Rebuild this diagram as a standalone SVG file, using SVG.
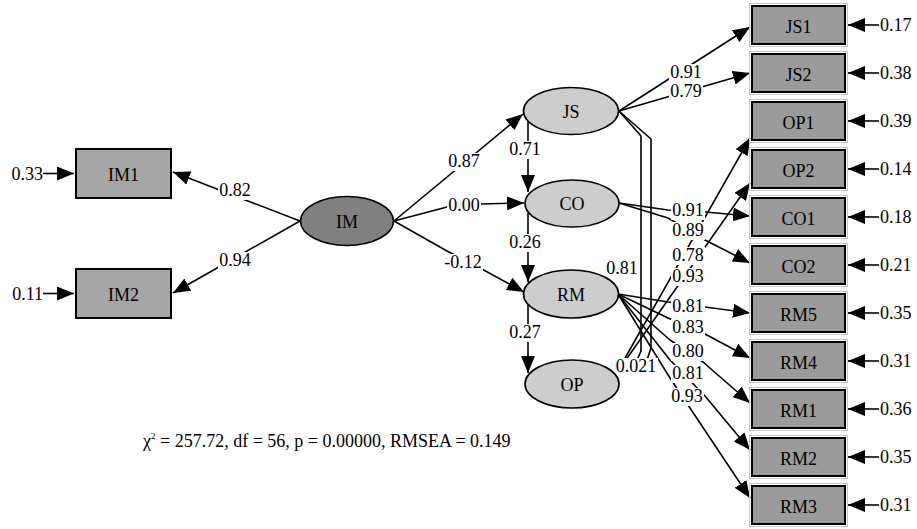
<svg xmlns="http://www.w3.org/2000/svg" width="917" height="529" viewBox="0 0 917 529" font-family="'Liberation Serif', 'Times New Roman', Tinos, 'DejaVu Serif', serif">
<style>
text{font-family:'Liberation Serif','Times New Roman',Tinos,'DejaVu Serif',serif;font-size:18px;fill:#000}
.c{fill:none;stroke:#000;stroke-width:1.6;stroke-linejoin:round}
.a{marker-end:url(#ah)}
.lb rect{fill:#fff;stroke:none}
.lb text{text-anchor:middle}
.box{fill:#9b9b9b;stroke:#000;stroke-width:2}
.boxo{fill:none;stroke:#c8c8c8;stroke-width:1}
.imbox{fill:#a6a6a6;stroke:#000;stroke-width:2}
.lat{fill:#cdcdcd;stroke:#000;stroke-width:1.6}
.exo{fill:#808080;stroke:#000;stroke-width:1.6}
.t{text-anchor:middle}
</style>
<defs>
<marker id="ah" viewBox="0 0 17 14" refX="17" refY="7" markerWidth="17" markerHeight="14" markerUnits="userSpaceOnUse" orient="auto"><path d="M0,0 L17,7 L0,14 z" fill="#000"/></marker>
</defs>
<rect width="917" height="529" fill="#fff"/>

<g id="connectors">
<path class="c a" d="M300,221 L173,172"/>
<path class="c a" d="M300,221 L173,293"/>
<path class="c a" d="M394,221 L523,114"/>
<path class="c a" d="M394,221 L447,207 L480,204 L524,203"/>
<path class="c a" d="M394,221 L447,251 L480,268 L524,292"/>
<path class="c a" d="M528,121 L528,192"/>
<path class="c a" d="M528,213 L528,282"/>
<path class="c a" d="M528,305 L528,373"/>
<path class="c a" d="M619,111 L750,27"/>
<path class="c a" d="M619,111 L750,73"/>
<path class="c a" d="M619,203 L668,210 L705,212 L750,216"/>
<path class="c a" d="M619,203 L668,218 L705,240 L750,263"/>
<path class="c a" d="M618,294 L668,302 L705,307 L750,313"/>
<path class="c a" d="M618,294 L668,318 L705,334 L750,358"/>
<path class="c a" d="M618,294 L670,340 L703,362 L750,403"/>
<path class="c a" d="M618,294 L670,360 L705,396 L750,450"/>
<path class="c a" d="M618,294 L670,378 L688,405 L750,498"/>
<path class="c a" d="M616,374 L750,138"/>
<path class="c a" d="M616,374 L750,183"/>
<path class="c" d="M619,111 L641,136 L641,351 L637,360"/>
<path class="c" d="M619,111 L651,139 L651,348 L647,360"/>
<path class="c a" d="M43,173.5 L74,173.5"/>
<path class="c a" d="M43,293.5 L74,293.5"/>
<path class="c a" d="M879,25 L848,25"/>
<path class="c a" d="M879,73 L848,73"/>
<path class="c a" d="M879,121 L848,121"/>
<path class="c a" d="M879,169 L848,169"/>
<path class="c a" d="M879,217 L848,217"/>
<path class="c a" d="M879,265 L848,265"/>
<path class="c a" d="M879,313 L848,313"/>
<path class="c a" d="M879,361 L848,361"/>
<path class="c a" d="M879,409 L848,409"/>
<path class="c a" d="M879,457 L848,457"/>
<path class="c a" d="M879,505 L848,505"/>
<g class="lb"><rect x="218" y="182" width="34" height="18"/><text x="235" y="196">0.82</text></g>
<g class="lb"><rect x="218" y="252" width="34" height="18"/><text x="235" y="266">0.94</text></g>
<g class="lb"><rect x="447" y="153" width="34" height="18"/><text x="464" y="167">0.87</text></g>
<g class="lb"><rect x="447" y="197" width="34" height="18"/><text x="464" y="211">0.00</text></g>
<g class="lb"><rect x="444" y="254" width="39" height="18"/><text x="463" y="268">-0.12</text></g>
<g class="lb"><rect x="508" y="141" width="34" height="18"/><text x="525" y="155">0.71</text></g>
<g class="lb"><rect x="508" y="234" width="34" height="18"/><text x="525" y="248">0.26</text></g>
<g class="lb"><rect x="508" y="324" width="34" height="18"/><text x="525" y="338">0.27</text></g>
<g class="lb"><rect x="669" y="64" width="34" height="18"/><text x="686" y="78">0.91</text></g>
<g class="lb"><rect x="669" y="83" width="34" height="18"/><text x="686" y="97">0.79</text></g>
<g class="lb"><rect x="671" y="202" width="34" height="18"/><text x="688" y="216">0.91</text></g>
<g class="lb"><rect x="671" y="222" width="34" height="18"/><text x="688" y="236">0.89</text></g>
<g class="lb"><rect x="671" y="247" width="34" height="18"/><text x="688" y="261">0.78</text></g>
<g class="lb"><rect x="671" y="268" width="34" height="18"/><text x="688" y="282">0.93</text></g>
<g class="lb"><rect x="671" y="298" width="34" height="18"/><text x="688" y="312">0.81</text></g>
<g class="lb"><rect x="671" y="319" width="34" height="18"/><text x="688" y="333">0.83</text></g>
<g class="lb"><rect x="671" y="343" width="34" height="18"/><text x="688" y="357">0.80</text></g>
<g class="lb"><rect x="671" y="365" width="34" height="18"/><text x="688" y="379">0.81</text></g>
<g class="lb"><rect x="670" y="388" width="34" height="18"/><text x="687" y="402">0.93</text></g>
<g class="lb"><rect x="605" y="260" width="34" height="18"/><text x="622" y="274">0.81</text></g>
<g class="lb"><rect x="615" y="358" width="43" height="18"/><text x="636" y="372">0.021</text></g>
<text x="43" y="179.5" text-anchor="end">0.33</text>
<text x="43" y="299.5" text-anchor="end">0.11</text>
<text x="880" y="31">0.17</text>
<text x="880" y="79">0.38</text>
<text x="880" y="127">0.39</text>
<text x="880" y="175">0.14</text>
<text x="880" y="223">0.18</text>
<text x="880" y="271">0.21</text>
<text x="880" y="319">0.35</text>
<text x="880" y="367">0.31</text>
<text x="880" y="415">0.36</text>
<text x="880" y="463">0.35</text>
<text x="880" y="511">0.31</text>
</g>

<g id="IM"><ellipse class="exo" cx="347" cy="221" rx="46.5" ry="24.5"/><text class="t" x="347" y="227.5">IM</text></g>
<g id="JS"><ellipse class="lat" cx="571" cy="111" rx="47.5" ry="23.5"/><text class="t" x="571" y="117.5">JS</text></g>
<g id="CO"><ellipse class="lat" cx="572" cy="203.5" rx="47" ry="23.5"/><text class="t" x="572" y="210">CO</text></g>
<g id="RM"><ellipse class="lat" cx="571" cy="294" rx="47.5" ry="24"/><text class="t" x="571" y="300.5">RM</text></g>
<g id="OP"><ellipse class="lat" cx="572" cy="384" rx="47" ry="24"/><text class="t" x="572" y="390.5">OP</text></g>

<g id="IM1"><rect class="imbox" x="76" y="149" width="95" height="49"/><text class="t" x="123.5" y="181">IM1</text></g>
<g id="IM2"><rect class="imbox" x="76" y="269" width="95" height="49"/><text class="t" x="123.5" y="301">IM2</text></g>

<g id="JS1"><rect class="boxo" x="749.5" y="3.5" width="98" height="43"/><rect class="box" x="752" y="6" width="93" height="38"/><text class="t" x="798.5" y="32.5">JS1</text></g>
<g id="JS2"><rect class="boxo" x="749.5" y="51.5" width="98" height="43"/><rect class="box" x="752" y="54" width="93" height="38"/><text class="t" x="798.5" y="80.5">JS2</text></g>
<g id="OP1"><rect class="boxo" x="749.5" y="99.5" width="98" height="43"/><rect class="box" x="752" y="102" width="93" height="38"/><text class="t" x="798.5" y="128.5">OP1</text></g>
<g id="OP2"><rect class="boxo" x="749.5" y="147.5" width="98" height="43"/><rect class="box" x="752" y="150" width="93" height="38"/><text class="t" x="798.5" y="176.5">OP2</text></g>
<g id="CO1"><rect class="boxo" x="749.5" y="195.5" width="98" height="43"/><rect class="box" x="752" y="198" width="93" height="38"/><text class="t" x="798.5" y="224.5">CO1</text></g>
<g id="CO2"><rect class="boxo" x="749.5" y="243.5" width="98" height="43"/><rect class="box" x="752" y="246" width="93" height="38"/><text class="t" x="798.5" y="272.5">CO2</text></g>
<g id="RM5"><rect class="boxo" x="749.5" y="291.5" width="98" height="43"/><rect class="box" x="752" y="294" width="93" height="38"/><text class="t" x="798.5" y="320.5">RM5</text></g>
<g id="RM4"><rect class="boxo" x="749.5" y="339.5" width="98" height="43"/><rect class="box" x="752" y="342" width="93" height="38"/><text class="t" x="798.5" y="368.5">RM4</text></g>
<g id="RM1"><rect class="boxo" x="749.5" y="387.5" width="98" height="43"/><rect class="box" x="752" y="390" width="93" height="38"/><text class="t" x="798.5" y="416.5">RM1</text></g>
<g id="RM2"><rect class="boxo" x="749.5" y="435.5" width="98" height="43"/><rect class="box" x="752" y="438" width="93" height="38"/><text class="t" x="798.5" y="464.5">RM2</text></g>
<g id="RM3"><rect class="boxo" x="749.5" y="483.5" width="98" height="43"/><rect class="box" x="752" y="486" width="93" height="38"/><text class="t" x="798.5" y="512.5">RM3</text></g>

<text x="143" y="447">χ<tspan font-size="9" dy="-8">2</tspan><tspan dy="8"> = 257.72, df = 56, p = 0.00000, RMSEA = 0.149</tspan></text>
</svg>
